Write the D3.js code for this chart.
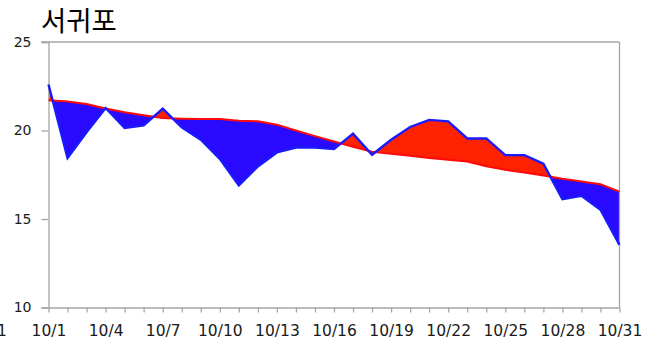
<!DOCTYPE html>
<html>
<head>
<meta charset="utf-8">
<script src="https://cdn.jsdelivr.net/npm/d3@7"></script>
<style>
  html, body { margin: 0; padding: 0; background: #fff; }
  svg { display: block; }
</style>
</head>
<body>
<svg id="chart" width="659" height="338"></svg>
<script>
// October days, daily mean temperature at 서귀포 versus the climatological normal
const days = d3.range(1, 32);
const dayLabels = days.map(d => "10/" + d);
const actual = [22.6, 18.45, 19.9, 21.27, 20.14, 20.29, 21.23, 20.18, 19.48, 18.4,
                16.9, 17.97, 18.76, 19.04, 19.03, 18.95, 19.82, 18.63, 19.48, 20.2,
                20.6, 20.52, 19.55, 19.55, 18.61, 18.61, 18.12, 16.12, 16.31, 15.52, 13.54];
const normal = [21.71, 21.64, 21.5, 21.24, 21.03, 20.86, 20.71, 20.67, 20.65, 20.65,
                20.55, 20.52, 20.33, 20.0, 19.68, 19.38, 19.08, 18.8, 18.68, 18.57,
                18.44, 18.35, 18.25, 17.98, 17.78, 17.63, 17.46, 17.27, 17.12, 16.96, 16.55];
const yTicks = [10, 15, 20, 25];
const xLabelDays = d3.range(1, 32, 3);
const title = "서귀포";

const rows = days.map((d, i) => ({ day: d, actual: actual[i], normal: normal[i] }));

const svg = d3.select("#chart");
const plotLeft = 48.5, plotRight = 619.5, plotTop = 42, plotBottom = 307.5;

const x = d3.scaleLinear().domain([1, 31]).range([plotLeft, plotRight]);
const y = d3.scaleLinear().domain([10, 25]).range([plotBottom, plotTop]);

const axisColor = "#a6a6a6";
const textColor = "#1a1a1a";

// Title
svg.append("text")
  .attr("x", 41).attr("y", 31)
  .attr("font-family", "'Noto Sans CJK KR', 'Noto Sans', sans-serif")
  .attr("font-size", 27.5)
  .attr("fill", "#000")
  .text(title);

// Clip regions above and below the normal curve
const defs = svg.append("defs");
defs.append("clipPath").attr("id", "clip-above")
  .append("path")
  .attr("d", d3.area().x(d => x(d.day)).y0(plotTop - 5).y1(d => y(d.normal))(rows));
defs.append("clipPath").attr("id", "clip-below")
  .append("path")
  .attr("d", d3.area().x(d => x(d.day)).y0(plotBottom + 5).y1(d => y(d.normal))(rows));

const band = d3.area()
  .x(d => x(d.day))
  .y0(d => y(d.normal))
  .y1(d => y(d.actual));

// Warmer than normal: red; colder than normal: blue
svg.append("path").datum(rows)
  .attr("clip-path", "url(#clip-above)")
  .attr("fill", "#ff2200")
  .attr("d", band);
svg.append("path").datum(rows)
  .attr("clip-path", "url(#clip-below)")
  .attr("fill", "#2a0aff")
  .attr("d", band);

// Frame: top and right borders
svg.append("line")
  .attr("x1", plotLeft - 7).attr("x2", plotRight).attr("y1", plotTop).attr("y2", plotTop)
  .attr("stroke", axisColor).attr("stroke-width", 1.3);
svg.append("line")
  .attr("x1", plotRight).attr("x2", plotRight).attr("y1", plotTop).attr("y2", plotBottom)
  .attr("stroke", axisColor).attr("stroke-width", 1.3);

// Y axis
const yAxis = d3.axisLeft(y).tickValues(yTicks).tickSize(7).tickPadding(10).tickFormat(d3.format("d"));
const gy = svg.append("g").attr("transform", `translate(${plotLeft},0)`).call(yAxis);
gy.select(".domain").attr("stroke", axisColor).attr("stroke-width", 1.3);
gy.selectAll(".tick line").attr("stroke", axisColor).attr("stroke-width", 1.3);
gy.selectAll(".tick text")
  .attr("font-family", "'DejaVu Sans', sans-serif")
  .attr("font-size", 14)
  .attr("fill", textColor);

// X axis: a tick every day, a label every third day
const xAxis = d3.axisBottom(x).tickValues(days).tickSize(5).tickSizeOuter(0)
  .tickFormat(d => xLabelDays.includes(d) ? dayLabels[d - 1] : "");
const gx = svg.append("g").attr("transform", `translate(0,${plotBottom})`).call(xAxis);
gx.select(".domain").attr("stroke", axisColor).attr("stroke-width", 1.3);
gx.selectAll(".tick line").attr("stroke", axisColor).attr("stroke-width", 1.3);
gx.selectAll(".tick text")
  .attr("font-family", "'DejaVu Sans', sans-serif")
  .attr("font-size", 15.5)
  .attr("fill", textColor)
  .attr("dy", 0)
  .attr("y", 28);

// Lines
const lineNormal = d3.line().x(d => x(d.day)).y(d => y(d.normal));
const lineActual = d3.line().x(d => x(d.day)).y(d => y(d.actual));
svg.append("path").datum(rows)
  .attr("fill", "none").attr("stroke", "#ff0a0a").attr("stroke-width", 2)
  .attr("d", lineNormal);
svg.append("path").datum(rows)
  .attr("fill", "none").attr("stroke", "#1a1aff").attr("stroke-width", 2.4)
  .attr("stroke-linejoin", "miter")
  .attr("d", lineActual);

// Partial label at the left edge
svg.append("text")
  .attr("x", -3).attr("y", 335.5)
  .attr("font-family", "'DejaVu Sans', sans-serif")
  .attr("font-size", 15.5)
  .attr("fill", textColor)
  .text("1");
</script>
</body>
</html>
